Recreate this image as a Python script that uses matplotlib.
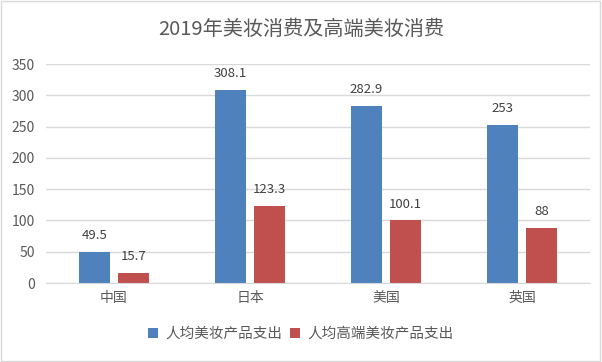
import numpy as np
import matplotlib.pyplot as plt
from matplotlib.patches import Rectangle

plt.rcParams['font.family'] = ['Noto Sans CJK SC', 'DejaVu Sans']

# 数据
countries = ['中国', '日本', '美国', '英国']
avg_spend = [49.5, 308.1, 282.9, 253]
high_spend = [15.7, 123.3, 100.1, 88]
avg_labels = ['49.5', '308.1', '282.9', '253']
high_labels = ['15.7', '123.3', '100.1', '88']
series_names = ['人均美妆产品支出', '人均高端美妆产品支出']

text_col = '#595959'
grid_col = '#d9d9d9'

fig = plt.figure(figsize=(6.02, 3.62), dpi=100)
ax = fig.add_axes([0.0764, 0.2182, 0.9036, 0.605])

x = np.arange(len(countries))
w = 0.228
off = 0.143
b1 = ax.bar(x - off, avg_spend, w, color='#4F81BD', label=series_names[0])
b2 = ax.bar(x + off, high_spend, w, color='#C0504D', label=series_names[1])

for bars, labs in ((b1, avg_labels), (b2, high_labels)):
    for b, t in zip(bars, labs):
        ax.annotate(t, (b.get_x() + b.get_width() / 2, b.get_height()),
                    xytext=(0, 7), textcoords='offset points',
                    ha='center', va='bottom', fontsize=9.5, color='#404040')

ax.set_xlim(-0.5, len(countries) - 0.5)
ax.set_ylim(0, 350)
ax.set_yticks(np.arange(0, 351, 50))
ax.set_xticks(x)
ax.set_xticklabels(countries)
ax.tick_params(axis='both', length=0, labelsize=10, colors=text_col)
ax.tick_params(axis='y', pad=8)
ax.tick_params(axis='x', pad=6)
ax.yaxis.grid(True, color=grid_col, linewidth=1)
ax.set_axisbelow(True)
for s in ['top', 'right', 'left']:
    ax.spines[s].set_visible(False)
ax.spines['bottom'].set_color(grid_col)

fig.text(0.5, 0.92, '2019年美妆消费及高端美妆消费', ha='center', va='center',
         fontsize=14.5, color=text_col)

fig.legend(loc='center', bbox_to_anchor=(0.5, 0.077), ncol=2, frameon=False,
           fontsize=10.5, handlelength=0.7, handleheight=0.7, handletextpad=0.5,
           columnspacing=0.5, labelcolor=text_col)

fig.patches.append(Rectangle((0.002, 0.003), 0.995, 0.993, transform=fig.transFigure,
                             fill=False, edgecolor='#d9d9d9', linewidth=1))

fig.savefig('out.png', dpi=100)
